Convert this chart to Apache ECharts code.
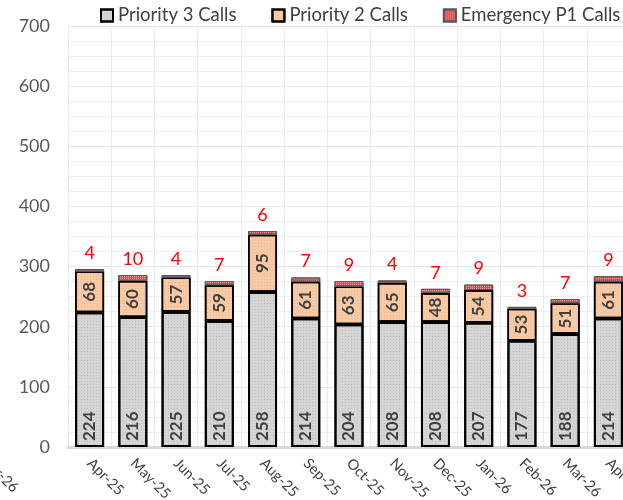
<!DOCTYPE html>
<html>
<head>
<meta charset="utf-8">
<script src="https://cdn.jsdelivr.net/npm/echarts@6/dist/echarts.min.js"></script>
<style>
  html, body { margin: 0; padding: 0; background: #ffffff; overflow: hidden; }
  #chart { width: 623px; height: 500px; }
</style>
</head>
<body>
<div id="chart"></div>
<script>
// Monthly call volumes by priority
const months = ['Apr-25', 'May-25', 'Jun-25', 'Jul-25', 'Aug-25', 'Sep-25', 'Oct-25',
                'Nov-25', 'Dec-25', 'Jan-26', 'Feb-26', 'Mar-26', 'Apr-26'];
const priority3 = [224, 216, 225, 210, 258, 214, 204, 208, 208, 207, 177, 188, 214];
const priority2 = [68, 60, 57, 59, 95, 61, 63, 65, 48, 54, 53, 51, 61];
const emergencyP1 = [4, 10, 4, 7, 6, 7, 9, 4, 7, 9, 3, 7, 9];
const seriesNames = ['Priority 3 Calls', 'Priority 2 Calls', 'Emergency P1 Calls'];

const FONT = 'Lato, "Liberation Sans", sans-serif';
const chart = echarts.init(document.getElementById('chart'), null, { renderer: 'canvas' });

chart.setOption({
  animation: false,
  textStyle: { fontFamily: FONT },
  legend: {
    top: 1,
    left: 95,
    width: 528,
    padding: [5, 0, 5, 5],
    itemWidth: 12,
    itemHeight: 12,
    itemGap: 35,
    icon: 'rect',
    textStyle: { fontSize: 18.5, color: '#404040', fontFamily: FONT },
    data: seriesNames
  },
  // the plot runs a little past the right edge of the canvas
  grid: { left: 68, width: 562, top: 26, bottom: 53, outerBoundsMode: 'none', containLabel: false },
  xAxis: {
    type: 'category',
    data: months,
    axisTick: { show: false },
    axisLine: { lineStyle: { color: '#d9d9d9', width: 3 } },
    axisLabel: { rotate: -45, fontSize: 14.5, color: '#404040', margin: 14, fontFamily: FONT },
    splitLine: { show: true, lineStyle: { color: '#ebebeb', width: 1 } }
  },
  yAxis: {
    type: 'value',
    min: 0,
    max: 700,
    interval: 100,
    axisLine: { show: false },
    axisTick: { show: false },
    axisLabel: { fontSize: 18, color: '#595959', margin: 18, fontFamily: FONT },
    splitLine: { lineStyle: { color: '#e6e6e6', width: 1 } },
    minorTick: { show: false, splitNumber: 4 },
    minorSplitLine: { show: true, lineStyle: { color: '#eeeeee', width: 1 } }
  },
  series: [
    {
      name: seriesNames[0],
      type: 'bar',
      stack: 'calls',
      barWidth: 29,
      data: priority3,
      itemStyle: {
        color: '#d5d5d5',
        borderColor: '#000000',
        borderWidth: 2,
        decal: { symbol: 'rect', symbolSize: 1, dashArrayX: [1, 2], dashArrayY: [1, 2], color: 'rgba(150,150,150,0.35)' }
      },
      label: {
        show: true,
        position: 'insideBottom',
        rotate: 90,
        align: 'left',
        verticalAlign: 'middle',
        distance: 6,
        fontSize: 17,
        fontWeight: 'bold',
        color: '#404040',
        fontFamily: FONT
      }
    },
    {
      name: seriesNames[1],
      type: 'bar',
      stack: 'calls',
      barWidth: 29,
      data: priority2,
      itemStyle: {
        color: '#f7c9a4',
        borderColor: '#000000',
        borderWidth: 1.6,
        decal: { symbol: 'rect', symbolSize: 1, dashArrayX: [1, 2], dashArrayY: [1, 2], color: 'rgba(220,150,110,0.35)' }
      },
      label: {
        show: true,
        position: 'inside',
        rotate: 90,
        align: 'center',
        verticalAlign: 'middle',
        fontSize: 17,
        fontWeight: 'bold',
        color: '#404040',
        fontFamily: FONT
      }
    },
    {
      name: seriesNames[2],
      type: 'bar',
      stack: 'calls',
      barWidth: 29,
      data: emergencyP1,
      itemStyle: {
        color: '#e05050',
        borderColor: '#595959',
        borderWidth: 1,
        decal: { symbol: 'rect', symbolSize: 1, dashArrayX: [1, 1], dashArrayY: [1, 1], color: 'rgba(255,190,190,0.6)' }
      },
      label: {
        show: true,
        position: 'top',
        distance: 7,
        fontSize: 18,
        color: '#ff0000',
        fontFamily: FONT
      }
    }
  ],
  graphic: [
    {
      type: 'text',
      x: 16,
      y: 490,
      rotation: -Math.PI / 4,
      style: {
        text: 'Apr-26',
        align: 'right',
        verticalAlign: 'middle',
        fontSize: 14.5,
        fill: '#404040',
        fontFamily: FONT
      }
    }
  ]
});
</script>
</body>
</html>
